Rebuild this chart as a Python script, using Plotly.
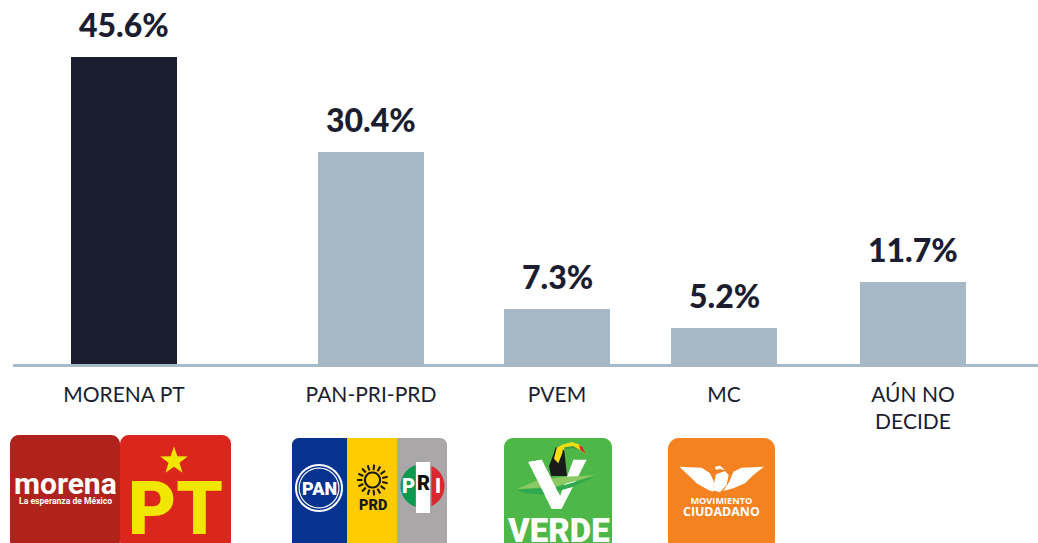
import numpy as np
import plotly.graph_objects as go

# ---- data ----
categories = ["MORENA PT", "PAN-PRI-PRD", "PVEM", "MC", "AÚN NO<br>DECIDE"]
shares = [45.6, 30.4, 7.3, 5.2, 11.7]
# the published bars are not strictly proportional to their labels: heights as drawn
drawn_heights = [45.6, 31.49, 8.17, 5.35, 12.18]
bar_colors = ["#1B1D30", "#A7B8C7", "#A7B8C7", "#A7B8C7", "#A7B8C7"]

# ---- layout constants ----
W, H = 1038, 543
BASE = 364.0
UNIT = 6.732
CENTERS = [124, 371, 557, 724, 913]
INK = "#1B1D30"
FONT = "Lato"
HEAVY = "Roboto"


def px(x):
    return x / W


def py(y):
    return 1 - y / H


def poly(points, color, close=True):
    d = "M" + " L".join(f"{px(x):.5f},{py(y):.5f}" for x, y in points) + (" Z" if close else "")
    return dict(type="path", xref="paper", yref="paper", path=d, fillcolor=color,
                line=dict(width=0), layer="above")


def rrect(x0, y0, x1, y1, r, color):
    pts = []
    for cx, cy, a0 in [(x1 - r, y0 + r, -90), (x1 - r, y1 - r, 0), (x0 + r, y1 - r, 90), (x0 + r, y0 + r, 180)]:
        for a in np.radians(np.linspace(a0, a0 + 90, 7)):
            pts.append((cx + r * np.cos(a), cy + r * np.sin(a)))
    return poly(pts, color)


def circle(cx, cy, r, color, n=48):
    a = np.linspace(0, 2 * np.pi, n, endpoint=False)
    return poly(list(zip(cx + r * np.cos(a), cy + r * np.sin(a))), color)


def zoomed(points, ox, oy):
    return [(ox + x / 3, oy + y / 3) for x, y in points]


def ltext(x, y, s, size, color="#FFFFFF", family=HEAVY, weight=900, **kw):
    return dict(xref="paper", yref="paper", x=px(x), y=py(y), text=s, showarrow=False,
                xanchor="center", yanchor="middle",
                font=dict(family=family, size=size, color=color, weight=weight), **kw)


shapes, notes = [], []

# morena + PT
shapes.append(rrect(10, 435, 120, 550, 9, "#B0231C"))
shapes.append(rrect(120, 435, 231, 550, 9, "#DB261D"))
star = []
for i in range(10):
    r = 14.5 if i % 2 == 0 else 5.8
    a = -np.pi / 2 + i * np.pi / 5
    star.append((174 + r * np.cos(a), 461 + r * np.sin(a)))
shapes.append(poly(star, "#F0E600"))
notes.append(ltext(65.5, 483, "morena", 30, weight=700))
notes.append(ltext(65.5, 500.5, "La esperanza de México", 8.6, weight=700))
notes.append(ltext(175.5, 508, "PT", 74, color="#F0E600"))

# PAN / PRD / PRI
shapes.append(rrect(292, 438, 447, 550, 7, "#A9A7A8"))
shapes.append(rrect(292, 438, 360, 550, 7, "#05338F"))
shapes.append(poly([(347, 438), (397, 438), (397, 543), (347, 543)], "#FFCC00"))
shapes.append(circle(319, 488, 24, "#FFFFFF"))
shapes.append(circle(319, 488, 22, "#05338F"))
shapes.append(circle(319, 488, 20.5, "#FFFFFF"))
shapes.append(circle(319, 488, 19.3, "#05338F"))
notes.append(ltext(319, 488, "PAN", 18))
sun_x, sun_y = 372.5, 480
for deg in range(0, 360, 24):
    a = np.radians(deg + 12)
    c, s = np.cos(a), np.sin(a)
    shapes.append(dict(type="line", xref="paper", yref="paper",
                       x0=px(sun_x + 10 * c), y0=py(sun_y + 10 * s),
                       x1=px(sun_x + 15.5 * c), y1=py(sun_y + 15.5 * s),
                       line=dict(color="#1A1A14", width=2.1)))
shapes.append(circle(sun_x, sun_y, 8.6, "#1A1A14"))
shapes.append(circle(sun_x, sun_y, 6.5, "#FFCC00"))
notes.append(ltext(372.5, 505, "PRD", 14.5, color="#1A1A14"))
cx, cy, R = 422.5, 486, 22
a = np.linspace(0, 2 * np.pi, 60, endpoint=False)
ring = list(zip(cx + R * np.cos(a), cy + R * np.sin(a)))
shapes.append(poly(sorted([p for p in ring if p[0] < 416 and p[1] < cy], key=lambda p: p[0])
                   + sorted([p for p in ring if p[0] < 416 and p[1] >= cy], key=lambda p: -p[0]), "#0B9A50"))
shapes.append(poly(sorted([p for p in ring if p[0] > 430 and p[1] < cy], key=lambda p: -p[0])
                   + sorted([p for p in ring if p[0] > 430 and p[1] >= cy], key=lambda p: p[0]), "#D9282F"))
shapes.append(poly([(416, 462), (430, 462), (430, 513), (416, 513)], "#FFFFFF"))
notes.append(ltext(408, 486, "P", 20))
notes.append(ltext(423, 483, "R", 20, color="#111111"))
notes.append(ltext(437.5, 486, "I", 20))

# Verde
shapes.append(rrect(504, 438, 612, 552, 9, "#4DB848"))
VX, VY = 505, 438
shapes.append(poly(zoomed([(70, 72), (110, 65), (165, 175), (205, 65), (245, 65), (170, 212), (140, 212)], VX, VY), "#FFFFFF"))
shapes.append(poly(zoomed([(132, 85), (145, 50), (152, 28), (178, 38), (186, 114), (138, 114)], VX, VY), "#1A1A1A"))
shapes.append(poly(zoomed([(147, 62), (155, 30), (175, 18), (172, 45), (160, 76)], VX, VY), "#F6DC12"))
shapes.append(poly(zoomed([(172, 20), (200, 12), (225, 20), (243, 48), (225, 37), (200, 28), (175, 36)], VX, VY), "#F6DC12"))
shapes.append(poly(zoomed([(178, 28), (205, 24), (228, 38), (200, 30), (178, 36)], VX, VY), "#3E9B47"))
shapes.append(poly(zoomed([(222, 20), (232, 28), (243, 48), (226, 36)], VX, VY), "#D7262C"))
shapes.append(poly(zoomed([(35, 155), (150, 149), (272, 114), (200, 148), (120, 170), (60, 166)], VX, VY), "#2FA84F"))
shapes.append(poly(zoomed([(35, 153), (100, 126), (180, 116), (272, 112), (150, 146)], VX, VY), "#8CC864"))
shapes.append(poly(zoomed([(70, 72), (110, 65), (168, 180), (168, 212), (140, 212)], VX, VY), "#FFFFFF"))
notes.append(ltext(558.5, 530, "VERDE", 33))

# Movimiento Ciudadano
shapes.append(rrect(668, 438, 775, 552, 11, "#F58220"))
MX, MY = 670, 455
shapes.append(poly(zoomed([(28, 35), (95, 38), (120, 55), (132, 80), (130, 110), (115, 105), (80, 85), (60, 65)], MX, MY), "#FFFFFF"))
shapes.append(poly(zoomed([(282, 35), (215, 38), (190, 50), (178, 80), (160, 108), (190, 100), (225, 85), (250, 60)], MX, MY), "#FFFFFF"))
shapes.append(poly(zoomed([(138, 58), (165, 48), (176, 60), (170, 90), (150, 112), (128, 106)], MX, MY), "#FFFFFF"))
shapes.append(poly(zoomed([(135, 35), (150, 32), (165, 45), (150, 42), (137, 44)], MX, MY), "#FFFFFF"))
notes.append(dict(xref="paper", yref="paper", x=px(721.5), y=py(507), showarrow=False, xanchor="center",
                  yanchor="middle", text="MOVIMIENTO<br><span style='font-size:12.4px'>CIUDADANO</span>",
                  font=dict(family="Open Sans", size=9.2, color="#FFFFFF", weight=700)))

# value labels, anchored to the tops of the bars
for x, h, v in zip(CENTERS, drawn_heights, shares):
    notes.append(dict(x=x, y=h, xref="x", yref="y", text=f"{v}%", showarrow=False,
                      yanchor="bottom", xanchor="center", yshift=11,
                      font=dict(family="Lato Black, Lato", size=32, color=INK, weight=900)))

fig = go.Figure(go.Bar(x=CENTERS, y=drawn_heights, width=106, marker=dict(color=bar_colors, line=dict(width=0)),
                       hoverinfo="skip"))
fig.update_layout(
    width=W, height=H, margin=dict(l=0, r=0, t=0, b=0, autoexpand=False),
    paper_bgcolor="#FFFFFF", plot_bgcolor="#FFFFFF", showlegend=False,
    shapes=shapes, annotations=notes, font=dict(family=FONT, color=INK),
    xaxis=dict(domain=[13 / W, 1], range=[13, W], tickmode="array", tickvals=CENTERS, ticktext=categories,
               showgrid=False, zeroline=False, showline=True, linecolor="#A7B8C7", linewidth=3,
               ticks="outside", ticklen=9.5, tickcolor="rgba(0,0,0,0)", tickfont=dict(family=FONT, size=21, color=INK)),
    yaxis=dict(domain=[1 - BASE / H, 1], range=[0, BASE / UNIT], visible=False),
)
fig.write_html("out.html", config=dict(displayModeBar=False),
               post_script="document.body.style.margin='0';document.body.style.overflow='hidden';")
